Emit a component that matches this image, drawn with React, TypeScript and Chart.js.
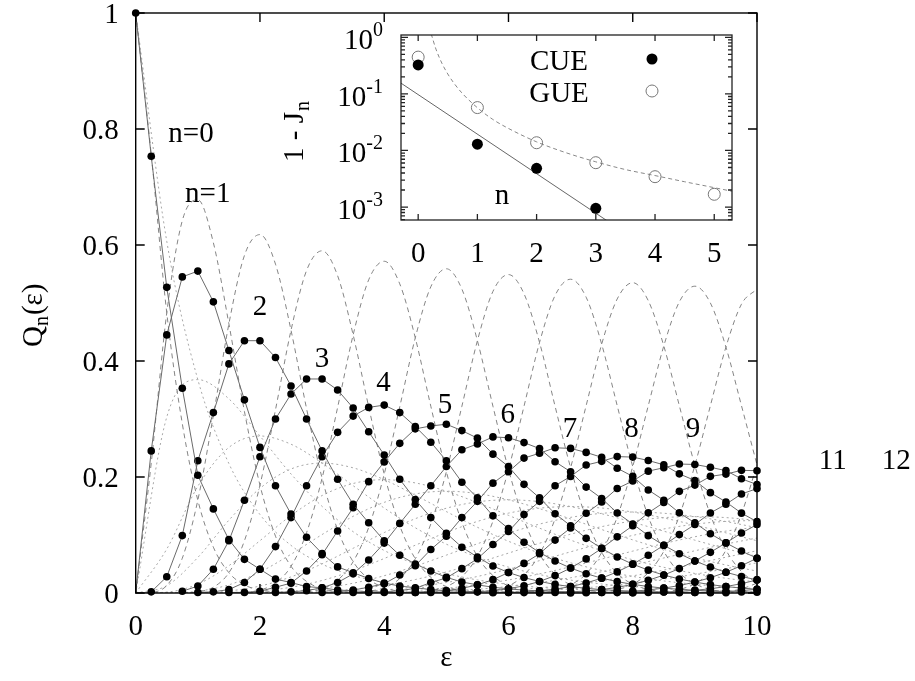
import React, { useEffect, useRef } from "react";
import { Chart, registerables } from "chart.js";
Chart.register(...registerables);

const lead = (k: number) => new Array(k).fill(null);

// sampling grid of the CUE data and of the Gaussian (dashed) curves
const EPS = [0, 0.25, 0.5, 0.75, 1, 1.25, 1.5, 1.75, 2, 2.25, 2.5, 2.75, 3, 3.25, 3.5, 3.75, 4, 4.25, 4.5, 4.75, 5,
  5.25, 5.5, 5.75, 6, 6.25, 6.5, 6.75, 7, 7.25, 7.5, 7.75, 8, 8.25, 8.5, 8.75, 9, 9.25, 9.5, 9.75, 10];
// sampling grid of the Poisson (dotted) curves
const EPS_P = [0, 0.5, 1, 1.5, 2, 2.5, 3, 3.5, 4, 4.5, 5, 5.5, 6, 6.5, 7, 7.5, 8, 8.5, 9, 9.5, 10];

// CUE Q_n(eps), solid lines with dots
const Q0 = [1, 0.753, 0.527, 0.353, 0.203, 0.145, 0.092, 0.058, 0.041, 0.024, 0.018, 0.011, 0.009, 0.005, 0.004, 0.002, 0.001, 0.001, 0.001, 0.001, 0.0005];
const Q1 = [0, 0.245, 0.445, 0.545, 0.555, 0.502, 0.418, 0.333, 0.251, 0.185, 0.136, 0.096, 0.068, 0.045, 0.035, 0.025, 0.017, 0.012, 0.009, 0.006, 0.004, 0.003, 0.002, 0.0014, 0.001, 0.0007, 0.0005];
const Q2 = [...lead(1), 0.002, 0.028, 0.099, 0.228, 0.311, 0.395, 0.435, 0.435, 0.406, 0.357, 0.300, 0.245, 0.196, 0.153, 0.121, 0.090, 0.065, 0.050, 0.038, 0.027, 0.019, 0.014, 0.010, 0.007, 0.005, 0.0037, 0.0027, 0.0019, 0.0013, 0.0009, 0.0007, 0.0005];
const Q3 = [...lead(3), 0.003, 0.012, 0.041, 0.090, 0.160, 0.235, 0.300, 0.343, 0.369, 0.369, 0.350, 0.319, 0.278, 0.238, 0.196, 0.161, 0.130, 0.103, 0.079, 0.062, 0.0465, 0.0353, 0.0266, 0.0199, 0.0148, 0.011, 0.0081, 0.0059, 0.0043, 0.0031, 0.0023, 0.0016, 0.0012, 0.0009, 0.0006, 0.0004];
const Q4 = [...lead(4), 0.001, 0.002, 0.006, 0.018, 0.041, 0.080, 0.130, 0.185, 0.235, 0.277, 0.305, 0.320, 0.324, 0.311, 0.287, 0.260, 0.228, 0.191, 0.164, 0.133, 0.111, 0.0876, 0.0698, 0.0551, 0.043, 0.0333, 0.0256, 0.0196, 0.0149, 0.0112, 0.0084, 0.0063, 0.0047, 0.0035, 0.0026, 0.0019, 0.0014];
const Q5 = [...lead(6), 0.001, 0.001, 0.003, 0.010, 0.017, 0.038, 0.066, 0.107, 0.147, 0.192, 0.226, 0.258, 0.283, 0.288, 0.291, 0.280, 0.267, 0.2394, 0.218, 0.1873, 0.164, 0.1366, 0.116, 0.0942, 0.0769, 0.0621, 0.0497, 0.0394, 0.0309, 0.0242, 0.0188, 0.0145, 0.0111, 0.0085, 0.0064];
const Q6 = [...lead(9), 0.001, 0.002, 0.004, 0.009, 0.018, 0.033, 0.057, 0.086, 0.120, 0.153, 0.185, 0.218, 0.247, 0.257, 0.2691, 0.2677, 0.2593, 0.249, 0.2264, 0.209, 0.1826, 0.163, 0.138, 0.119, 0.0989, 0.0823, 0.0677, 0.0553, 0.0447, 0.0358, 0.0285, 0.0226];
const Q7 = [...lead(12), 0.001, 0.002, 0.005, 0.010, 0.016, 0.031, 0.047, 0.075, 0.098, 0.130, 0.158, 0.1894, 0.209, 0.2326, 0.241, 0.2504, 0.2493, 0.2424, 0.234, 0.2152, 0.201, 0.1777, 0.160, 0.1382, 0.121, 0.1022, 0.0864, 0.0723, 0.0600];
const Q8 = [...lead(14), 0.001, 0.001, 0.002, 0.004, 0.008, 0.018, 0.026, 0.042, 0.059, 0.0835, 0.106, 0.1352, 0.158, 0.185, 0.201, 0.2206, 0.227, 0.2352, 0.2343, 0.2285, 0.221, 0.2054, 0.194, 0.173, 0.157, 0.1377, 0.123];
const Q9 = [...lead(17), 0.001, 0.001, 0.003, 0.004, 0.008, 0.014, 0.023, 0.0353, 0.051, 0.0677, 0.0912, 0.112, 0.1375, 0.157, 0.1802, 0.193, 0.2101, 0.216, 0.2224, 0.2216, 0.2167, 0.211, 0.1969, 0.187];
const Q10 = [...lead(20), 0.0004, 0.001, 0.002, 0.004, 0.0073, 0.0124, 0.0199, 0.030, 0.043, 0.0588, 0.0769, 0.0968, 0.116, 0.1382, 0.156, 0.1753, 0.186, 0.2011, 0.205, 0.2115, 0.2109];
const Q11 = [...lead(23), 0.0004, 0.001, 0.002, 0.0037, 0.0066, 0.011, 0.0172, 0.0256, 0.0364, 0.0497, 0.0651, 0.0823, 0.1007, 0.118, 0.138, 0.153, 0.1707, 0.180];
const Q12 = [...lead(26), 0.0005, 0.001, 0.0019, 0.0035, 0.0059, 0.0096, 0.0149, 0.0219, 0.0309, 0.0421, 0.0553, 0.0701, 0.0864, 0.1034, 0.118];
const Q13 = [...lead(28), 0.0002, 0.0005, 0.0009, 0.0018, 0.0031, 0.0053, 0.0084, 0.0128, 0.0188, 0.0264, 0.0358, 0.0471, 0.0600];
const Q14 = [...lead(32), 0.0005, 0.0009, 0.0016, 0.0028, 0.0047, 0.0073, 0.0111, 0.0161, 0.0226];
const Q15 = [...lead(35), 0.0005, 0.0009, 0.0015, 0.0026, 0.0041, 0.0064];

// Gaussian approximation, dashed
const D0 = [1, 0.756, 0.483, 0.292, 0.160, 0.079, 0.035, 0.014, 0.005, 0.002];
const D1 = [0, 0.224, 0.483, 0.642, 0.678, 0.604, 0.464, 0.313, 0.186, 0.098, 0.046, 0.020, 0.007, 0.003, 0.001];
const D2 = [0, 0.001, 0.013, 0.060, 0.160, 0.306, 0.464, 0.582, 0.618, 0.567, 0.453, 0.318, 0.198, 0.109, 0.054, 0.024, 0.009, 0.003, 0.001];
const D3 = [...lead(3), 0.0002, 0.002, 0.010, 0.035, 0.090, 0.186, 0.316, 0.453, 0.556, 0.590, 0.547, 0.445, 0.321, 0.205, 0.116, 0.059, 0.027, 0.011, 0.004, 0.001];
const D4 = [...lead(7), 0.001, 0.005, 0.017, 0.046, 0.104, 0.198, 0.320, 0.445, 0.540, 0.572, 0.533, 0.440, 0.322, 0.209, 0.122, 0.063, 0.030, 0.012, 0.005, 0.002];
const D5 = [...lead(11), 0.002, 0.007, 0.022, 0.054, 0.113, 0.205, 0.321, 0.440, 0.528, 0.559, 0.524, 0.435, 0.322, 0.213, 0.126, 0.067, 0.032, 0.014, 0.005, 0.002];
const D6 = [...lead(14), 0.001, 0.003, 0.009, 0.025, 0.059, 0.119, 0.209, 0.322, 0.435, 0.520, 0.549, 0.516, 0.432, 0.322, 0.216, 0.129, 0.070, 0.034, 0.015, 0.006, 0.002];
const D7 = [...lead(18), 0.001, 0.004, 0.011, 0.028, 0.063, 0.124, 0.213, 0.322, 0.432, 0.513, 0.541, 0.510, 0.429, 0.323, 0.218, 0.132, 0.072, 0.035, 0.016, 0.006, 0.002];
const D8 = [...lead(22), 0.001, 0.004, 0.012, 0.031, 0.067, 0.128, 0.216, 0.323, 0.429, 0.507, 0.535, 0.504, 0.426, 0.323, 0.220, 0.135, 0.074, 0.037, 0.017];
const D9 = [...lead(26), 0.002, 0.005, 0.014, 0.033, 0.070, 0.131, 0.218, 0.323, 0.426, 0.502, 0.529, 0.500, 0.424, 0.323, 0.221];
const D10 = [...lead(30), 0.002, 0.006, 0.015, 0.035, 0.072, 0.133, 0.220, 0.323, 0.424, 0.498, 0.524];
const D11 = [...lead(34), 0.002, 0.006, 0.016, 0.036, 0.074, 0.136, 0.221];
const D12 = [...lead(38), 0.002, 0.007, 0.017];

// Poisson, dotted
const P0 = [1, 0.6065, 0.3679, 0.2231, 0.1353, 0.0821, 0.0498, 0.0302, 0.0183, 0.0111, 0.0067, 0.0041, 0.0025, 0.0015, 0.0009, 0.0006, 0.0003, 0.0002, 0.0001, 0.0001, 0];
const P1 = [0, 0.3033, 0.3679, 0.3347, 0.2707, 0.2052, 0.1494, 0.1057, 0.0733, 0.0500, 0.0337, 0.0225, 0.0149, 0.0098, 0.0064, 0.0041, 0.0027, 0.0017, 0.0011, 0.0007, 0.0005];
const P2 = [0, 0.0758, 0.1839, 0.2510, 0.2707, 0.2565, 0.2240, 0.1850, 0.1465, 0.1125, 0.0842, 0.0618, 0.0446, 0.0318, 0.0223, 0.0156, 0.0107, 0.0074, 0.0050, 0.0034, 0.0023];
const P3 = [0, 0.0126, 0.0613, 0.1255, 0.1804, 0.2138, 0.2240, 0.2158, 0.1954, 0.1687, 0.1404, 0.1133, 0.0892, 0.0688, 0.0521, 0.0389, 0.0286, 0.0208, 0.0150, 0.0107, 0.0076];
const P4 = [0, 0.0016, 0.0153, 0.0471, 0.0902, 0.1336, 0.1680, 0.1888, 0.1954, 0.1898, 0.1755, 0.1558, 0.1339, 0.1118, 0.0912, 0.0729, 0.0573, 0.0443, 0.0337, 0.0254, 0.0189];
const P5 = [0, 0.0002, 0.0031, 0.0141, 0.0361, 0.0668, 0.1008, 0.1322, 0.1563, 0.1708, 0.1755, 0.1714, 0.1606, 0.1454, 0.1277, 0.1094, 0.0916, 0.0752, 0.0607, 0.0483, 0.0378];
const P6 = [0, 0, 0.0005, 0.0035, 0.0120, 0.0278, 0.0504, 0.0771, 0.1042, 0.1281, 0.1462, 0.1571, 0.1606, 0.1575, 0.1490, 0.1367, 0.1221, 0.1066, 0.0911, 0.0764, 0.0631];
const P7 = [0, 0, 0.0001, 0.0008, 0.0034, 0.0099, 0.0216, 0.0385, 0.0595, 0.0824, 0.1044, 0.1234, 0.1377, 0.1462, 0.1490, 0.1465, 0.1396, 0.1294, 0.1171, 0.1037, 0.0901];
const P8 = [0, 0, 0, 0.0001, 0.0009, 0.0031, 0.0081, 0.0169, 0.0298, 0.0463, 0.0653, 0.0849, 0.1033, 0.1188, 0.1304, 0.1373, 0.1396, 0.1375, 0.1318, 0.1232, 0.1126];
const P9 = [0, 0, 0, 0, 0.0002, 0.0009, 0.0027, 0.0066, 0.0132, 0.0232, 0.0363, 0.0519, 0.0688, 0.0858, 0.1014, 0.1144, 0.1241, 0.1299, 0.1318, 0.1300, 0.1251];
const P10 = [0, 0, 0, 0, 0, 0.0002, 0.0008, 0.0023, 0.0053, 0.0104, 0.0181, 0.0285, 0.0413, 0.0558, 0.0710, 0.0858, 0.0993, 0.1104, 0.1186, 0.1235, 0.1251];
const P11 = [0, 0, 0, 0, 0, 0, 0.0002, 0.0007, 0.0019, 0.0043, 0.0082, 0.0143, 0.0225, 0.0330, 0.0452, 0.0585, 0.0722, 0.0853, 0.0970, 0.1067, 0.1137];
const P12 = [0, 0, 0, 0, 0, 0, 0, 0.0002, 0.0006, 0.0016, 0.0034, 0.0065, 0.0113, 0.0179, 0.0263, 0.0366, 0.0481, 0.0604, 0.0728, 0.0844, 0.0948];
const P13 = [0, 0, 0, 0, 0, 0, 0, 0, 0.0002, 0.0006, 0.0013, 0.0028, 0.0052, 0.0089, 0.0142, 0.0211, 0.0296, 0.0395, 0.0504, 0.0617, 0.0729];
const P14 = [0, 0, 0, 0, 0, 0, 0, 0, 0, 0.0002, 0.0005, 0.0011, 0.0022, 0.0041, 0.0071, 0.0113, 0.0169, 0.0240, 0.0324, 0.0419, 0.0521];

const CUE_SERIES = [Q0, Q1, Q2, Q3, Q4, Q5, Q6, Q7, Q8, Q9, Q10, Q11, Q12, Q13, Q14, Q15];
const DASH_SERIES = [D0, D1, D2, D3, D4, D5, D6, D7, D8, D9, D10, D11, D12];
const POIS_SERIES = [P0, P1, P2, P3, P4, P5, P6, P7, P8, P9, P10, P11, P12, P13, P14];

// main axes
const X_TICKS = [0, 2, 4, 6, 8, 10];
const Y_TICKS = [0, 0.2, 0.4, 0.6, 0.8, 1];
const Y_TICK_LABELS = ["0", "0.2", "0.4", "0.6", "0.8", "1"];

// curve labels (text, eps, Q)
const CURVE_LABELS = ["n=0", "n=1", "2", "3", "4", "5", "6", "7", "8", "9", "11", "12"];
const CURVE_LABEL_EPS = [0.89, 1.16, 2.0, 3.0, 3.99, 4.98, 5.99, 6.99, 7.98, 8.97, 11.22, 12.24];
const CURVE_LABEL_Q = [0.795, 0.691, 0.497, 0.407, 0.366, 0.328, 0.31, 0.287, 0.287, 0.287, 0.231, 0.231];

// inset
const INSET_N_CUE = [0, 1, 2, 3];
const INSET_CUE = [0.326, 0.0129, 0.00484, 0.00095];
const INSET_N_GUE = [0, 1, 2, 3, 4, 5];
const INSET_GUE = [0.447, 0.0573, 0.0137, 0.00608, 0.00344, 0.00168];
const FIT_CUE_N = [-0.29, 3.3];
const FIT_CUE = [0.155, 0.00048];
const FIT_GUE_N = [0.22, 0.3, 0.4, 0.5, 0.6, 0.75, 1, 1.25, 1.5, 2, 2.5, 3, 3.5, 4, 4.5, 5, 5.3];
const FIT_GUE = [1.15, 0.62, 0.35, 0.225, 0.157, 0.101, 0.057, 0.036, 0.0253, 0.0142, 0.0091, 0.0063, 0.0046, 0.0036, 0.0028, 0.0022, 0.0019];
const INSET_X_TICKS = [0, 1, 2, 3, 4, 5];
const INSET_Y_EXP = [0, -1, -2, -3];

const SERIF = '"Liberation Serif", "Times New Roman", serif';
const FS = 29;
const FS_SUB = 20;
const W = 915;
const H = 681;

const toPts = (xs: number[], ys: (number | null)[]) => xs.map((x, i) => ({ x, y: ys[i] ?? null }));

const mainDecor = {
  id: "mainDecor",
  afterDatasetsDraw(chart: any) {
    const { ctx, chartArea: a, scales } = chart;
    const x = scales.x;
    const y = scales.y;
    ctx.save();
    ctx.strokeStyle = "#000";
    ctx.lineWidth = 1.4;
    ctx.strokeRect(a.left, a.top, a.right - a.left, a.bottom - a.top);
    ctx.beginPath();
    X_TICKS.forEach((v) => {
      const px = x.getPixelForValue(v);
      ctx.moveTo(px, a.bottom); ctx.lineTo(px, a.bottom - 9);
      ctx.moveTo(px, a.top); ctx.lineTo(px, a.top + 9);
    });
    Y_TICKS.forEach((v) => {
      const py = y.getPixelForValue(v);
      ctx.moveTo(a.left, py); ctx.lineTo(a.left + 9, py);
      ctx.moveTo(a.right, py); ctx.lineTo(a.right - 9, py);
    });
    ctx.stroke();
    ctx.restore();
  },
  afterDraw(chart: any) {
    const { ctx, chartArea: a, scales } = chart;
    const x = scales.x;
    const y = scales.y;
    ctx.save();
    ctx.fillStyle = "#000";
    ctx.font = `${FS}px ${SERIF}`;
    ctx.textBaseline = "alphabetic";
    ctx.textAlign = "center";
    X_TICKS.forEach((v) => ctx.fillText(String(v), x.getPixelForValue(v), a.bottom + 42));
    ctx.textAlign = "right";
    Y_TICKS.forEach((v, i) => ctx.fillText(Y_TICK_LABELS[i], a.left - 17, y.getPixelForValue(v) + 10));
    ctx.textAlign = "center";
    CURVE_LABELS.forEach((t, i) => {
      ctx.fillText(t, x.getPixelForValue(CURVE_LABEL_EPS[i]), y.getPixelForValue(CURVE_LABEL_Q[i]) + 10);
    });
    // x title
    ctx.fillText("ε", (a.left + a.right) / 2, a.bottom + 73);
    // y title Q_n(ε)
    ctx.translate(42, 347);
    ctx.rotate(-Math.PI / 2);
    ctx.textAlign = "left";
    ctx.font = `${FS}px ${SERIF}`;
    ctx.fillText("Q", 0, 0);
    const wq = ctx.measureText("Q").width;
    ctx.font = `${FS_SUB}px ${SERIF}`;
    ctx.fillText("n", wq, 6);
    const wn = ctx.measureText("n").width;
    ctx.font = `${FS}px ${SERIF}`;
    ctx.fillText("(ε)", wq + wn + 1, 0);
    ctx.restore();
  },
};

const insetDecor = {
  id: "insetDecor",
  afterDatasetsDraw(chart: any) {
    const { ctx, chartArea: a, scales } = chart;
    const x = scales.x;
    const y = scales.y;
    ctx.save();
    ctx.strokeStyle = "#222";
    ctx.lineWidth = 1.3;
    ctx.strokeRect(a.left, a.top, a.right - a.left, a.bottom - a.top);
    ctx.beginPath();
    INSET_X_TICKS.forEach((v) => {
      const px = x.getPixelForValue(v);
      ctx.moveTo(px, a.bottom); ctx.lineTo(px, a.bottom - 6);
      ctx.moveTo(px, a.top); ctx.lineTo(px, a.top + 6);
    });
    for (let e = -4; e <= 0; e++) {
      for (let m = 1; m <= 9; m++) {
        const v = m * Math.pow(10, e);
        if (v < y.min || v > y.max) continue;
        const py = y.getPixelForValue(v);
        const len = m === 1 ? 7 : 4;
        ctx.moveTo(a.left, py); ctx.lineTo(a.left + len, py);
        ctx.moveTo(a.right, py); ctx.lineTo(a.right - len, py);
      }
    }
    ctx.stroke();
    ctx.restore();
  },
  afterDraw(chart: any) {
    const { ctx, chartArea: a, scales } = chart;
    const x = scales.x;
    const y = scales.y;
    ctx.save();
    ctx.fillStyle = "#000";
    ctx.textBaseline = "alphabetic";
    ctx.font = `${FS}px ${SERIF}`;
    ctx.textAlign = "center";
    INSET_X_TICKS.forEach((v) => ctx.fillText(String(v), x.getPixelForValue(v), a.bottom + 42));
    ctx.textAlign = "left";
    INSET_Y_EXP.forEach((e) => {
      const py = y.getPixelForValue(Math.pow(10, e));
      const sup = String(e);
      ctx.font = `${FS}px ${SERIF}`;
      const w10 = ctx.measureText("10").width;
      ctx.font = `${FS_SUB}px ${SERIF}`;
      const ws = ctx.measureText(sup).width;
      const x0 = a.left - 18 - (w10 + ws);
      ctx.font = `${FS}px ${SERIF}`;
      ctx.fillText("10", x0, py + 12);
      ctx.font = `${FS_SUB}px ${SERIF}`;
      ctx.fillText(sup, x0 + w10, py - 1);
    });
    // legend
    ctx.font = `${FS}px ${SERIF}`;
    ctx.textAlign = "center";
    ctx.fillText("CUE", 559, 70);
    ctx.fillText("GUE", 559, 102);
    ctx.beginPath();
    ctx.arc(652, 59, 5.5, 0, Math.PI * 2);
    ctx.fill();
    ctx.beginPath();
    ctx.strokeStyle = "#777";
    ctx.lineWidth = 1;
    ctx.arc(652, 91, 6, 0, Math.PI * 2);
    ctx.stroke();
    // axis label n inside
    ctx.fillText("n", 502, 204);
    // y title 1 - J_n
    ctx.translate(303, 162);
    ctx.rotate(-Math.PI / 2);
    ctx.textAlign = "left";
    ctx.font = `${FS}px ${SERIF}`;
    ctx.fillText("1 - J", 0, 0);
    const wj = ctx.measureText("1 - J").width;
    ctx.font = `${FS_SUB}px ${SERIF}`;
    ctx.fillText("n", wj + 1, 6);
    ctx.restore();
  },
};

export default function App() {
  const mainRef = useRef<HTMLCanvasElement>(null);
  const insetRef = useRef<HTMLCanvasElement>(null);

  useEffect(() => {
    const datasets: any[] = [];
    CUE_SERIES.forEach((q, n) => {
      datasets.push({
        data: toPts(EPS, q),
        borderColor: "#6a6a6a",
        borderWidth: 1,
        pointRadius: (c: any) => (c.dataIndex === 0 && n > 0 ? 0 : 3.8),
        pointBackgroundColor: "#000",
        pointBorderColor: "#000",
        pointBorderWidth: 0,
        tension: 0,
        clip: 6,
        order: 0,
      });
    });
    DASH_SERIES.forEach((d) => {
      datasets.push({
        data: toPts(EPS, d),
        borderColor: "#858585",
        borderWidth: 1,
        borderDash: [5, 4],
        pointRadius: 0,
        cubicInterpolationMode: "monotone",
        order: 1,
      });
    });
    POIS_SERIES.forEach((p) => {
      datasets.push({
        data: toPts(EPS_P, p),
        borderColor: "#a8a8a8",
        borderWidth: 1,
        borderDash: [2, 3],
        pointRadius: 0,
        cubicInterpolationMode: "monotone",
        order: 2,
      });
    });

    const main = new Chart(mainRef.current as HTMLCanvasElement, {
      type: "line",
      data: { datasets },
      options: {
        animation: false,
        responsive: false,
        events: [],
        spanGaps: false,
        layout: { padding: { left: 135.7, top: 13, right: W - 757, bottom: H - 593 } },
        scales: {
          x: { type: "linear", min: 0, max: 10, display: false },
          y: { type: "linear", min: 0, max: 1, display: false },
        },
        plugins: { legend: { display: false }, tooltip: { enabled: false } },
      } as any,
      plugins: [mainDecor],
    });

    const inset = new Chart(insetRef.current as HTMLCanvasElement, {
      type: "line",
      data: {
        datasets: [
          {
            data: toPts(INSET_N_CUE, INSET_CUE),
            showLine: false,
            pointRadius: 5.5,
            pointBackgroundColor: "#000",
            pointBorderColor: "#000",
            pointBorderWidth: 0,
            order: 0,
          },
          {
            data: toPts(INSET_N_GUE, INSET_GUE),
            showLine: false,
            pointRadius: 6,
            pointBackgroundColor: "rgba(255,255,255,0)",
            pointBorderColor: "#777",
            pointBorderWidth: 1,
            order: 0,
          },
          {
            data: toPts(FIT_CUE_N, FIT_CUE),
            borderColor: "#666",
            borderWidth: 1,
            pointRadius: 0,
            order: 1,
          },
          {
            data: toPts(FIT_GUE_N, FIT_GUE),
            borderColor: "#888",
            borderWidth: 1,
            borderDash: [4, 3],
            pointRadius: 0,
            cubicInterpolationMode: "monotone",
            order: 1,
          },
        ],
      },
      options: {
        animation: false,
        responsive: false,
        events: [],
        layout: { padding: { left: 401, top: 35, right: W - 732, bottom: H - 220 } },
        scales: {
          x: { type: "linear", min: -0.29, max: 5.3, display: false },
          y: { type: "logarithmic", min: 0.00059, max: 1.1, display: false },
        },
        plugins: { legend: { display: false }, tooltip: { enabled: false } },
      } as any,
      plugins: [insetDecor],
    });

    return () => {
      main.destroy();
      inset.destroy();
    };
  }, []);

  return (
    <div style={{ position: "absolute", left: 0, top: 0, width: W, height: H, background: "#fff" }}>
      <canvas ref={mainRef} width={W} height={H} style={{ position: "absolute", left: 0, top: 0 }} />
      <canvas ref={insetRef} width={W} height={H} style={{ position: "absolute", left: 0, top: 0, pointerEvents: "none" }} />
    </div>
  );
}
